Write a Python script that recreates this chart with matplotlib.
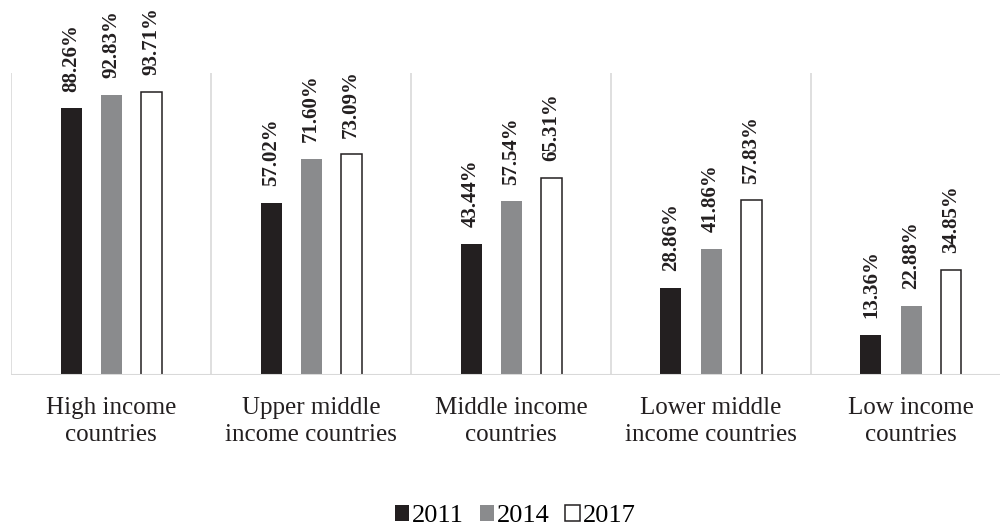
import numpy as np
import matplotlib.pyplot as plt

plt.rcParams['font.family'] = ['Liberation Serif', 'DejaVu Serif']

categories = ["High income\ncountries", "Upper middle\nincome countries", "Middle income\ncountries",
              "Lower middle\nincome countries", "Low income\ncountries"]
years = ["2011", "2014", "2017"]
v2011 = [88.26, 57.02, 43.44, 28.86, 13.36]
v2014 = [92.83, 71.60, 57.54, 41.86, 22.88]
v2017 = [93.71, 73.09, 65.31, 57.83, 34.85]

fig = plt.figure(figsize=(10, 5.32), dpi=100)
ax = fig.add_axes([0.011, 0.2951, 1.0, 0.5677])

x = np.arange(len(categories))
styles = [dict(color="#231f20"), dict(color="#8a8b8d"),
          dict(facecolor="white", edgecolor="#231f20", linewidth=1.1)]
for k, (vals, yr) in enumerate(zip([v2011, v2014, v2017], years)):
    bars = ax.bar(x + (k - 1) * 0.2, vals, 0.105, label=yr, **styles[k])
    for b, v in zip(bars, vals):
        ax.annotate(f"{v:.2f}%", (b.get_x() + b.get_width() / 2, v),
                    xytext=(0, 12), textcoords="offset points",
                    rotation=90, ha="center", va="bottom",
                    fontsize=15, fontweight="bold", color="#231f20")

ax.set_xlim(-0.5, 4.5)
ax.set_ylim(0, 100)
for s in ax.spines.values():
    s.set_visible(False)
ax.vlines(np.arange(len(categories)) - 0.5, 0, 100, color="#d9d9d9", linewidth=1.2)
ax.axhline(0, color="#d9d9d9", linewidth=1.5)
ax.set_yticks([])
ax.set_xticks(x)
ax.set_xticklabels(categories, fontsize=18, color="#231f20", linespacing=1.3)
ax.tick_params(axis="x", length=0, pad=16)

fig.legend(loc="center", bbox_to_anchor=(0.515, 0.03), ncol=3, frameon=False,
           fontsize=19, handlelength=0.55, handleheight=0.55, handletextpad=0.1,
           columnspacing=0.6, borderpad=0)

fig.savefig("out.png", dpi=100)
